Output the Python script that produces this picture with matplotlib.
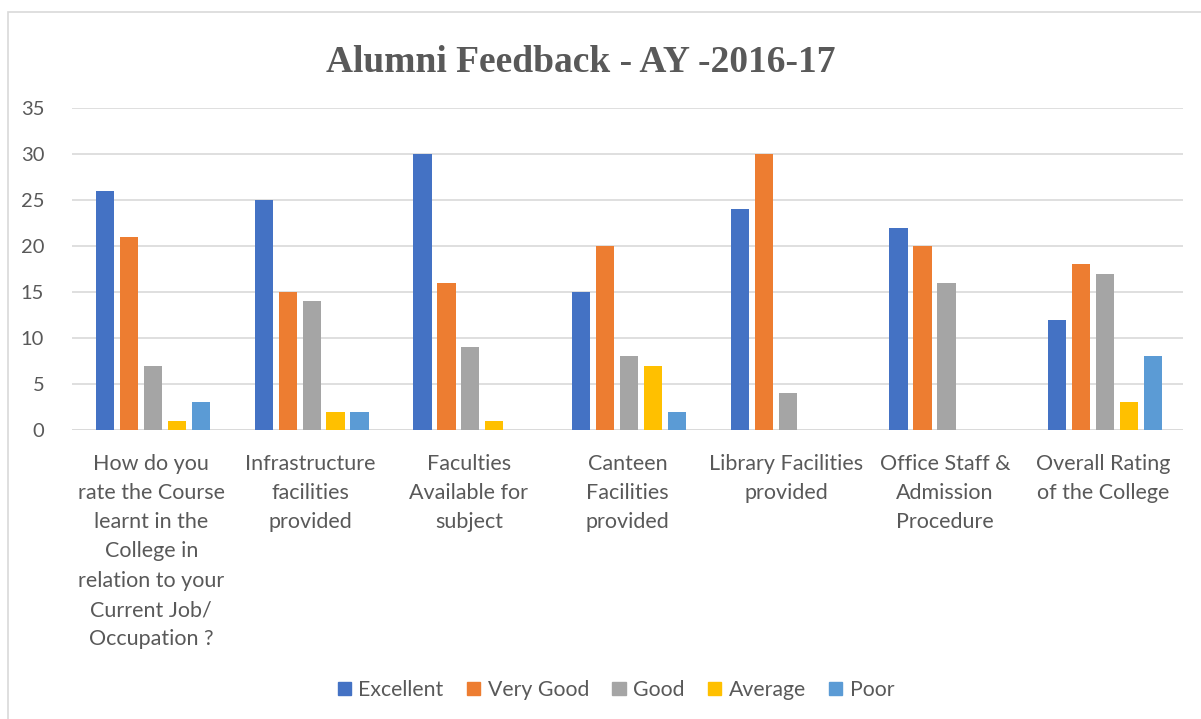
import numpy as np
import matplotlib.pyplot as plt
from matplotlib.patches import Rectangle, Patch

categories = [
    "How do you\nrate the Course\nlearnt in the\nCollege in\nrelation to your\nCurrent Job/\nOccupation ?",
    "Infrastructure\nfacilities\nprovided",
    "Faculties\nAvailable for\nsubject",
    "Canteen\nFacilities\nprovided",
    "Library Facilities\nprovided",
    "Office Staff &\nAdmission\nProcedure",
    "Overall Rating\nof the College",
]
series_names = ["Excellent", "Very Good", "Good", "Average", "Poor"]
excellent = [26, 25, 30, 15, 24, 22, 12]
very_good = [21, 15, 16, 20, 30, 20, 18]
good = [7, 14, 9, 8, 4, 16, 17]
average = [1, 2, 1, 7, 0, 0, 3]
poor = [3, 2, 0, 2, 0, 0, 8]
colors = ["#4472C4", "#ED7D31", "#A5A5A5", "#FFC000", "#5B9BD5"]

txt = "#595959"
plt.rcParams['font.family'] = ['Lato', 'DejaVu Sans']

fig = plt.figure(figsize=(12.01, 7.19), dpi=100)
W, H = 1201, 719
ax = fig.add_axes([72 / W, 1 - 430 / H, (1183 - 72) / W, (430 - 108) / H])

# chart border
fig.patches.append(Rectangle((8 / W, -0.05), 1.2, 1 - 12 / H + 0.05, transform=fig.transFigure,
                             fill=False, edgecolor="#d9d9d9", linewidth=1.2))

x = np.arange(len(categories))
pitch = 0.151
bw = 0.115
all_vals = [excellent, very_good, good, average, poor]
for i, (vals, name, c) in enumerate(zip(all_vals, series_names, colors)):
    ax.bar(x + (i - 2) * pitch + 0.01, vals, bw, color=c, label=name, zorder=3)

ax.set_xlim(-0.5, len(categories) - 0.5)
ax.set_ylim(0, 35)
ax.set_yticks(range(0, 36, 5))
ax.grid(axis='y', color="#d9d9d9", linewidth=1.2, zorder=0)
for s in ax.spines.values():
    s.set_visible(False)
ax.axhline(0, color="#d9d9d9", linewidth=1.2, zorder=1)
ax.tick_params(length=0, colors=txt, labelsize=14.5)
ax.tick_params(axis='y', pad=20)
ax.tick_params(axis='x', pad=17)
ax.set_xticks(x)
ax.set_xticklabels(categories, linespacing=1.58, fontsize=15.5, color=txt)

fig.text(581 / W, 1 - 63 / H, "Alumni Feedback - AY -2016-17", family="Liberation Serif",
         fontweight="bold", fontsize=27, color=txt, ha="center", va="center")

handles = [Patch(color=c) for c in colors]
fig.legend(handles, series_names, loc="center", bbox_to_anchor=(616 / W, 1 - 690 / H), ncol=5,
           frameon=False, fontsize=15.3, labelcolor=txt, handlelength=0.62, handleheight=0.62,
           handletextpad=0.35, columnspacing=1.1)

fig.savefig("out.png", dpi=100)
